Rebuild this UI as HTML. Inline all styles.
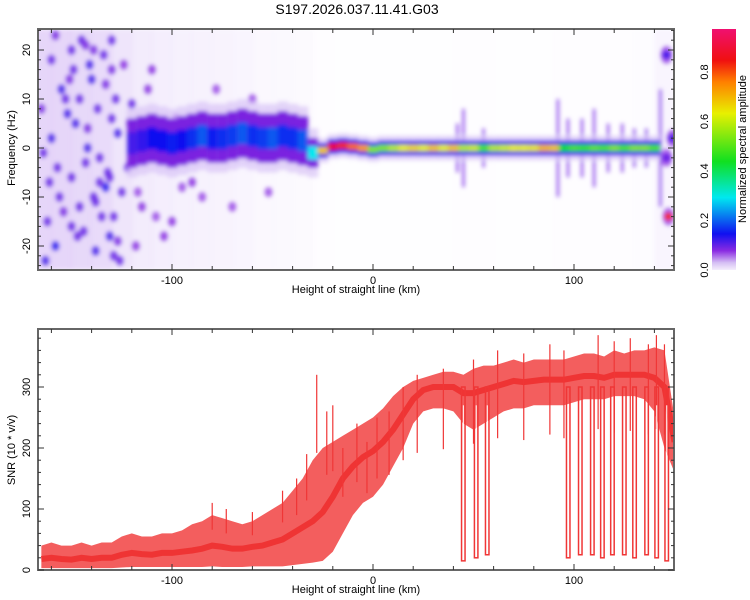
<!DOCTYPE html>
<html><head><meta charset="utf-8"><style>
body{margin:0;background:#fff;}
svg{display:block;font-family:"Liberation Sans",sans-serif;}
</style></head><body>
<svg id="chart" width="750" height="600" viewBox="0 0 750 600">
<defs>
<filter id="blur" x="-5%" y="-5%" width="110%" height="110%"><feGaussianBlur stdDeviation="2"/></filter>
<linearGradient id="cbar" x1="0" y1="1" x2="0" y2="0">
<stop offset="0" stop-color="#f4eefc"/><stop offset="0.03" stop-color="#d6c0f4"/>
<stop offset="0.08" stop-color="#8a2be2"/><stop offset="0.15" stop-color="#1010f0"/>
<stop offset="0.3" stop-color="#00e8f0"/><stop offset="0.45" stop-color="#10e020"/>
<stop offset="0.65" stop-color="#e8f000"/><stop offset="0.78" stop-color="#ff8000"/>
<stop offset="0.87" stop-color="#f01010"/><stop offset="1" stop-color="#f01070"/>
</linearGradient>
<clipPath id="clipTop"><rect x="38" y="29" width="636" height="241"/></clipPath>
<clipPath id="clipBot"><rect x="38" y="329" width="636" height="241"/></clipPath>
</defs>
<text x="357" y="14" text-anchor="middle" font-size="14">S197.2026.037.11.41.G03</text>
<g id="top" clip-path="url(#clipTop)"><g id="topMarks" filter="url(#blur)"></g></g>
<g id="bot" clip-path="url(#clipBot)"></g>
<g id="axes"></g>
<rect x="712" y="29" width="24" height="241" fill="url(#cbar)"/>
<g id="cbarAxis"></g>
<text transform="translate(746,149) rotate(-90)" text-anchor="middle" font-size="11">Normalized spectral amplitude</text>
</svg>
<script>
// ---- data ----
const ridgeKm = [-120,-115,-110,-105,-100,-95,-90,-85,-80,-75,-70,-65,-60,-55,-50,-45,-40,-35,-30,-25,-20,-15,-10,-5,0,5,10,15,20,25,30,35,40,45,50,55,60,65,70,75,80,85,90,95,100,105,110,115,120,125,130,135,140,145];
const ridgeFreq = [1,1.5,2,1.5,1,1.5,2,2.5,2,2,2.5,3,2.5,2,2,2.5,2,1.5,-1,-0.5,0.3,0.5,0.3,0,-0.3,0,0,0,0,0,0,0,0,0,0,0,0,0,0,0,0,0,0,0,0,0,0,0,0,0,0,0,0,0];
const ridgeAmp = [0.12,0.13,0.15,0.15,0.16,0.15,0.17,0.2,0.16,0.17,0.18,0.2,0.17,0.18,0.2,0.17,0.17,0.2,0.3,0.7,0.9,0.85,0.8,0.75,0.55,0.55,0.6,0.65,0.68,0.65,0.7,0.65,0.7,0.6,0.62,0.5,0.6,0.62,0.65,0.65,0.66,0.72,0.7,0.45,0.5,0.48,0.52,0.5,0.55,0.5,0.55,0.55,0.5,0];
const ridgeHalf = [5,5,5,5,5,5,5,5,5,5,5,5,5,5,5,5,5,5,3,1.5,1.5,1.5,1.5,1.5,1.5,1.5,1.5,1.5,1.5,1.5,1.5,1.5,1.5,1.5,1.5,1.5,1.5,1.5,1.5,1.5,1.5,1.5,1.5,1.5,1.5,1.5,1.5,1.5,1.5,1.5,1.5,1.5,1.5,0];
const streakKm = [42,45,55,92,97,104,110,117,124,130,136,143];
const streakHalf = [5,8,4,10,6,6,8,5,5,4,4,12];
const noiseBinKm = [-165,-155,-145,-135,-125,-115,-105,-95,-85,-75,-65,-55,-45,-35,-25,-15,-5,5,15,25,35,45,55,65,75,85,95,105,115,125,135,145];
const noiseDensity = [0.85,0.85,0.8,0.75,0.55,0.4,0.35,0.3,0.28,0.25,0.2,0.15,0.12,0.1,0.04,0.03,0.03,0.02,0.02,0.02,0.03,0.04,0.04,0.02,0.02,0.02,0.04,0.04,0.04,0.04,0.06,0.2];
const dotKm = [-160,-155,-150,-148,-143,-140,-137,-133,-130,-127,-162,-158,-152,-146,-141,-136,-131,-128,-125,-160,-150,-145,-138,-135,-130,-122,-156,-149,-142,-134,-129,-120,-115,-110,-104,-98,-90,-118,-112,-100,-163,-144,-139,-126,-153,-132,
 -165,-157,-151,-147,-142,-138,-133,-129,-124,-161,-154,-146,-139,-131,-127,-121,-164,-158,-150,-143,-136,-130,-117,-108,-95,-85,-78,-70,-60,-52];
const dotHz = [18,12,20,5,-3,14,8,-8,22,3,-15,-20,7,-12,17,-2,-18,10,-9,2,-6,22,-21,-14,6,-4,-10,16,0,19,-22,9,-12,16,-18,6,-7,-20,12,-15,-23,-17,-10,-23,10,-5,
 8,-4,14,-18,4,-11,13,-14,17,-7,-13,10,20,-6,-19,5,-1,23,-16,21,-7,16,-9,-14,-8,-10,12,-12,10,-9];
const dotAmp = [0.1,0.12,0.1,0.12,0.1,0.12,0.1,0.14,0.1,0.12,0.1,0.14,0.12,0.1,0.12,0.1,0.12,0.1,0.1,0.12,0.1,0.1,0.12,0.1,0.1,0.1,0.1,0.1,0.12,0.1,0.1,0.1,0.08,0.08,0.08,0.08,0.08,0.08,0.08,0.08,0.12,0.1,0.1,0.1,0.1,0.1,
 0.09,0.1,0.09,0.1,0.09,0.1,0.09,0.1,0.08,0.1,0.09,0.1,0.09,0.1,0.09,0.08,0.1,0.09,0.1,0.09,0.1,0.09,0.07,0.07,0.07,0.07,0.07,0.07,0.07,0.07];
const spotKm = [147,146,146,149];
const spotHz = [-14,19,-2,2];
const spotAmp = [0.85,0.12,0.1,0.12];
const snrKm = [-165,-160,-155,-150,-145,-140,-135,-130,-125,-120,-115,-110,-105,-100,-95,-90,-85,-80,-75,-70,-65,-60,-55,-50,-45,-40,-35,-30,-25,-20,-15,-10,-5,0,5,10,15,20,25,30,35,40,45,50,55,60,65,70,75,80,85,90,95,100,105,110,115,120,125,130,135,140,145,150];
const snrLow = [3,3,3,3,3,3,3,3,4,5,5,5,5,5,5,5,5,6,5,5,5,6,6,6,6,8,10,12,15,30,60,90,110,120,140,170,200,240,260,265,265,260,240,230,240,250,260,265,265,270,270,270,270,275,280,280,280,285,285,285,280,260,200,160];
const snrHigh = [40,45,40,40,45,40,45,45,55,60,55,55,60,60,65,75,80,90,85,80,75,80,90,100,110,130,150,180,200,210,220,230,240,250,265,285,300,310,315,320,325,325,320,330,335,335,340,345,340,345,345,345,345,350,355,355,350,360,355,360,360,365,360,250];
const snrMid = [18,20,18,17,20,18,20,20,25,28,26,25,28,28,30,32,35,40,38,35,35,38,40,45,50,60,70,80,95,120,150,170,185,195,210,230,255,280,295,300,300,300,290,290,295,300,305,310,308,310,312,312,312,315,318,318,315,320,320,320,320,315,300,210];
const spikeKm = [-80,-73,-60,-45,-38,-33,-28,-23,-20,-15,-8,-3,2,8,15,22,35,50,62,75,88,95,112,120,128,137,141,145];
const spikeVal = [110,100,95,130,150,190,320,260,270,200,240,210,250,260,300,320,330,345,360,355,370,360,385,375,380,370,385,370];
const dropKm = [44.8,51.2,56.7,97,103,109,114,119,124.9,130,136,141,146];
const dropMin = [15,20,25,20,25,25,20,25,25,20,25,20,15];
const kmTicks = [-100,0,100];
const hzTicks = [-20,-10,0,10,20];
const snrTicks = [0,100,200,300];
const cbTicks = [0.0,0.2,0.4,0.6,0.8];

// ---- axes ----
const NS = 'http://www.w3.org/2000/svg';
const X = km => 373 + (km) * 2.01;
const YT = hz => 148 - hz * 4.9;
const YB = s => 570 - s * 0.61;
const CB = v => 270 - v * 247.5;
function mk(tag, attrs, parent){ const e = document.createElementNS(NS, tag); for (const k in attrs) e.setAttribute(k, attrs[k]); parent.appendChild(e); return e; }
function cmap(v){
  const st=[[0,[244,238,252]],[0.03,[214,192,244]],[0.08,[138,43,226]],[0.15,[16,16,240]],[0.3,[0,232,240]],[0.45,[16,224,32]],[0.65,[232,240,0]],[0.78,[255,128,0]],[0.87,[240,16,16]],[1,[240,16,112]]];
  v=Math.max(0,Math.min(1,v));
  for(let i=1;i<st.length;i++){ if(v<=st[i][0]){ const a=st[i-1],b=st[i],t=(v-a[0])/(b[0]-a[0]); const c=a[1].map((x,j)=>Math.round(x+(b[1][j]-x)*t)); return `rgb(${c})`; } }
  return 'rgb(240,16,112)';
}
const tm = document.getElementById('topMarks');
const bot = document.getElementById('bot');
const axes = document.getElementById('axes');

noiseBinKm.forEach((k,i)=>{
  const r = mk('rect',{x:X(k-5),y:29,width:10*2.01+0.5,height:241,fill:'#c9a8f2','fill-opacity':noiseDensity[i]*0.55},tm);
  
  
});
dotKm.forEach((k,i)=>{
  const c = mk('ellipse',{cx:X(k),cy:YT(dotHz[i]),rx:4,ry:5,fill:cmap(dotAmp[i]),'fill-opacity':0.85},tm);
  
  
});
streakKm.forEach((k,i)=>{
  const r = mk('rect',{x:X(k)-1.5,y:YT(streakHalf[i]),width:3,height:streakHalf[i]*2*4.9,fill:'#7a2ee8','fill-opacity':0.7},tm);
  
  
});
ridgeKm.forEach((k,i)=>{
  if(ridgeAmp[i]<=0) return;
  const x0=X(k-2.5), w=5*2.01+0.6, f=ridgeFreq[i], h=ridgeHalf[i], a=ridgeAmp[i];
  const pad = h>2 ? 2 : 1;
  const halo = mk('rect',{x:x0,y:YT(f+h+pad),width:w,height:(2*h+2*pad)*4.9,fill:'#d8c4f6','fill-opacity':0.7},tm);
  
  
  const mid = mk('rect',{x:x0,y:YT(f+h),width:w,height:2*h*4.9,fill:h>2?'#7a20e0':cmap(0.13)},tm);
  
  
  const core = mk('rect',{x:x0,y:YT(f+h*0.45),width:w,height:h*0.9*4.9,fill:cmap(a)},tm);
  
  
});
spotKm.forEach((k,i)=>{
  const o = mk('ellipse',{cx:X(k),cy:YT(spotHz[i]),rx:6,ry:9,fill:'#8a2be2','fill-opacity':0.7},tm);
  
  
  const c = mk('ellipse',{cx:X(k),cy:YT(spotHz[i]),rx:4,ry:4,fill:cmap(spotAmp[i])},tm);
  
  
});

let pts = snrKm.map((k,i)=>`${X(k)},${YB(snrHigh[i])}`);
pts = pts.concat(snrKm.slice().reverse().map((k,j)=>{const i=snrKm.length-1-j; return `${X(k)},${YB(snrLow[i])}`;}));
const band = mk('polygon',{points:pts.join(' '),fill:'#f03636','fill-opacity':0.8},bot);


const line = mk('polyline',{points:snrKm.map((k,i)=>`${X(k)},${YB(snrMid[i])}`).join(' '),fill:'none',stroke:'#ee3030','stroke-width':6,'stroke-opacity':0.9},bot);


spikeKm.forEach((k,i)=>{
  const s = mk('line',{x1:X(k),x2:X(k),y1:YB(spikeVal[i]),y2:YB(spikeVal[i]*0.6),stroke:'#f03636','stroke-width':1.2},bot);
  
  
});
dropKm.forEach((k,i)=>{
  const d = mk('rect',{x:X(k)-1.5,y:YB(300),width:3.5,height:YB(dropMin[i])-YB(300),fill:'none',stroke:'#f03636','stroke-width':1.5},bot);
  
  
  const w = mk('rect',{x:X(k)-0.2,y:YB(270),width:1,height:YB(dropMin[i]+10)-YB(270),fill:'#fff'},bot);
  
  
});

function frame(y0,y1,name){
  const r = mk('rect',{x:38,y:y0,width:636,height:y1-y0,fill:'none',stroke:'#666','stroke-width':2},axes);
  
  
  for(let k=-160;k<=150;k+=20){
    const L = (k%100===0)?6:4;
    mk('line',{x1:X(k),x2:X(k),y1:y1,y2:y1-L,stroke:'#333'},axes);
    mk('line',{x1:X(k),x2:X(k),y1:y0,y2:y0+L,stroke:'#333'},axes);
  }
  kmTicks.forEach(k=>{
    const t = mk('text',{x:X(k),y:y1+14,'text-anchor':'middle','font-size':11},axes);
    t.textContent = k;
    
    
  });
  const xt = mk('text',{x:356,y:y1+23,'text-anchor':'middle','font-size':11},axes);
  xt.textContent='Height of straight line (km)';
  
  
}
frame(29,270,'spectrogram-frame');
frame(329,570,'snr-frame');
for(let h=-24;h<=24;h+=2){
  const L=(h%10===0)?6:3;
  mk('line',{x1:38,x2:38+L,y1:YT(h),y2:YT(h),stroke:'#333'},axes);
  mk('line',{x1:674,x2:674-L,y1:YT(h),y2:YT(h),stroke:'#333'},axes);
}
hzTicks.forEach(h=>{
  const t = mk('text',{transform:`translate(30,${YT(h)}) rotate(-90)`,'text-anchor':'middle','font-size':11},axes);
  t.textContent=h;
  
  
});
const yt1 = mk('text',{transform:'translate(15,148) rotate(-90)','text-anchor':'middle','font-size':11},axes);
yt1.textContent='Frequency (Hz)';


for(let s=0;s<=390;s+=20){
  const L=(s%100===0)?6:3;
  mk('line',{x1:38,x2:38+L,y1:YB(s),y2:YB(s),stroke:'#333'},axes);
  mk('line',{x1:674,x2:674-L,y1:YB(s),y2:YB(s),stroke:'#333'},axes);
}
snrTicks.forEach(s=>{
  const t = mk('text',{transform:`translate(30,${YB(s)}) rotate(-90)`,'text-anchor':'middle','font-size':11},axes);
  t.textContent=s;
  
  
});
const yt2 = mk('text',{transform:'translate(15,450) rotate(-90)','text-anchor':'middle','font-size':11},axes);
yt2.textContent='SNR (10 * v/v)';


const cba = document.getElementById('cbarAxis');
cbTicks.forEach(v=>{
  const t = mk('text',{transform:`translate(708,${CB(v)}) rotate(-90)`,'text-anchor':'middle','font-size':11},cba);
  t.textContent=v.toFixed(1);
  
  
});
</script>
</body></html>
